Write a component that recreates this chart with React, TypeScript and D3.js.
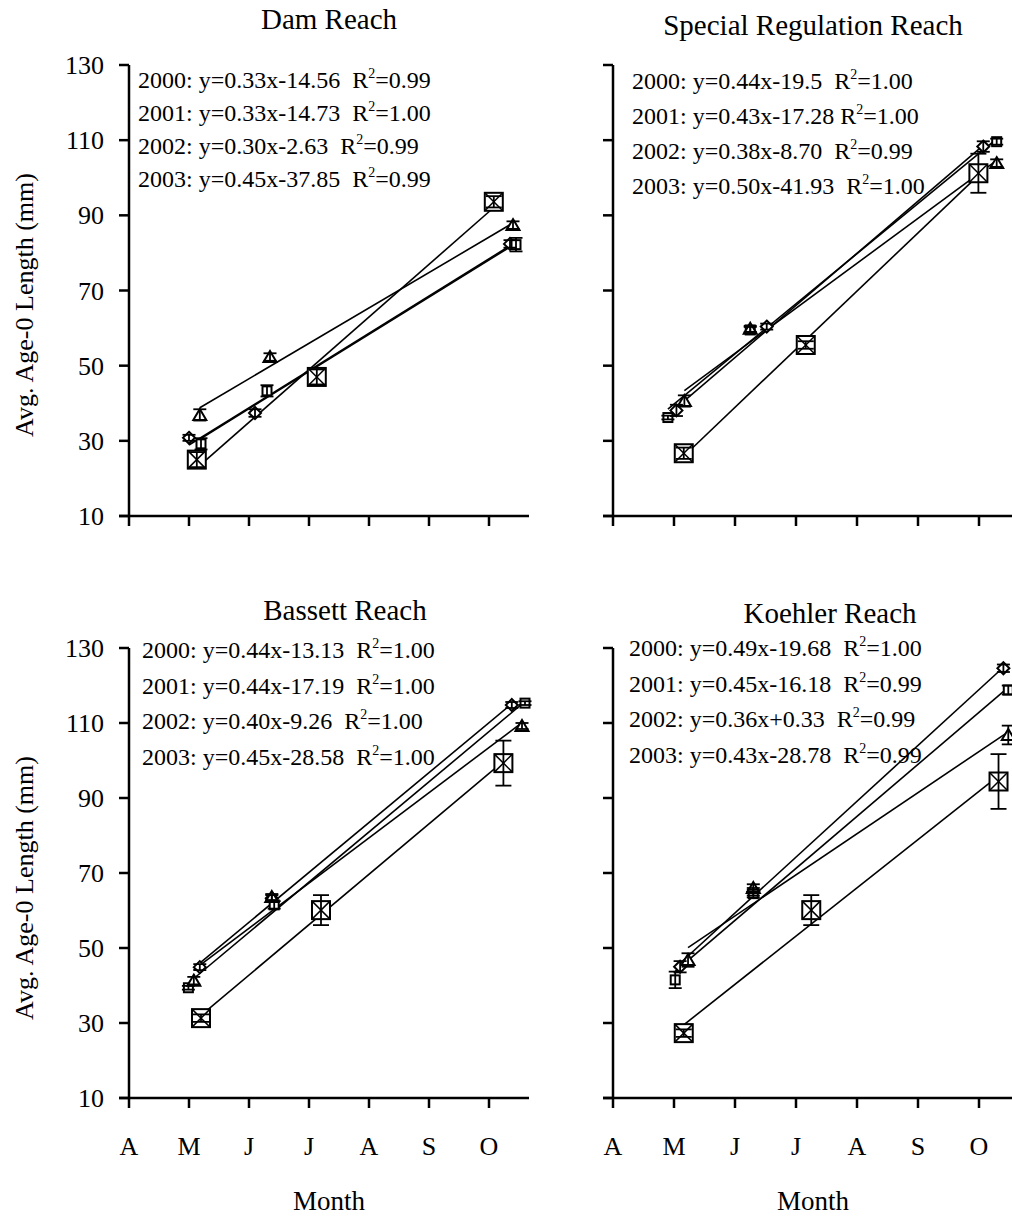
import React from 'react';
import * as d3 from 'd3';

const MONTH_LABELS = ['A', 'M', 'J', 'J', 'A', 'S', 'O'];
const Y_TICKS = [10, 30, 50, 70, 90, 110, 130];
const YEARS = ['2000', '2001', '2002', '2003'];
const MARKERS = ['diamond', 'square', 'triangle', 'boxx'];

// Month position: 0 = April, 1 = May, ... 6 = October
// Dam Reach
const damMonths = [
  [1.0, 2.1, 6.35],
  [1.2, 2.3, 6.45],
  [1.18, 2.35, 6.4],
  [1.13, 3.13, 6.08],
];
const damLengths = [
  [30.8, 37.4, 82.4],
  [29.2, 43.3, 82.2],
  [36.9, 52.3, 87.4],
  [25.0, 47.0, 93.6],
];
const damErrors = [
  [0.8, 1.0, 1.0],
  [1.5, 1.5, 1.8],
  [1.5, 1.0, 1.0],
  [2.0, 2.0, 1.5],
];
const damEquations = ['y=0.33x-14.56', 'y=0.33x-14.73', 'y=0.30x-2.63', 'y=0.45x-37.85'];
const damR2 = ['0.99', '1.00', '0.99', '0.99'];

// Special Regulation Reach
const specialMonths = [
  [1.04, 2.52, 6.07],
  [0.9, 2.25, 6.29],
  [1.17, 2.25, 6.29],
  [1.16, 3.16, 5.99],
];
const specialLengths = [
  [38.1, 60.4, 108.3],
  [36.2, 59.5, 109.6],
  [40.6, 59.8, 103.9],
  [26.7, 55.5, 101.2],
];
const specialErrors = [
  [1.5, 0.8, 1.4],
  [0.5, 0.8, 0.8],
  [1.5, 0.8, 1.0],
  [1.5, 1.0, 5.2],
];
const specialEquations = ['y=0.44x-19.5', 'y=0.43x-17.28', 'y=0.38x-8.70', 'y=0.50x-41.93'];
const specialR2 = ['1.00', '1.00', '0.99', '1.00'];
const specialGaps = ['  ', ' ', '  ', '  '];

// Bassett Reach
const bassettMonths = [
  [1.18, 2.38, 6.38],
  [0.99, 2.42, 6.6],
  [1.08, 2.38, 6.55],
  [1.2, 3.2, 6.24],
];
const bassettLengths = [
  [44.9, 63.3, 114.8],
  [39.4, 61.5, 115.3],
  [41.3, 63.6, 109.2],
  [31.3, 60.1, 99.3],
];
const bassettErrors = [
  [0.8, 0.8, 0.8],
  [0.5, 1.0, 0.5],
  [1.0, 0.8, 0.8],
  [1.0, 4.0, 6.0],
];
const bassettEquations = ['y=0.44x-13.13', 'y=0.44x-17.19', 'y=0.40x-9.26', 'y=0.45x-28.58'];
const bassettR2 = ['1.00', '1.00', '1.00', '1.00'];

// Koehler Reach
const koehlerMonths = [
  [1.1, 2.3, 6.4],
  [1.02, 2.3, 6.48],
  [1.23, 2.3, 6.48],
  [1.16, 3.25, 6.32],
];
const koehlerLengths = [
  [45.0, 65.0, 124.6],
  [41.5, 64.5, 118.8],
  [46.8, 66.0, 106.8],
  [27.3, 60.1, 94.4],
];
const koehlerErrors = [
  [1.5, 1.0, 1.0],
  [2.2, 1.0, 1.2],
  [1.8, 1.0, 2.5],
  [1.0, 4.0, 7.3],
];
const koehlerEquations = ['y=0.49x-19.68', 'y=0.45x-16.18', 'y=0.36x+0.33', 'y=0.43x-28.78'];
const koehlerR2 = ['1.00', '0.99', '0.99', '0.99'];

const FONT = '"Liberation Serif", "Times New Roman", serif';
const DEFAULT_GAPS = ['  ', '  ', '  ', '  '];

type PanelCfg = {
  title: string;
  months: number[][];
  lengths: number[][];
  errors: number[][];
  equations: string[];
  r2: string[];
  gaps: string[];
  x0: number;
  step: number;
  yTop: number;
  yBot: number;
  titleX: number;
  titleY: number;
  annX: number;
  annY: number;
  annDy: number;
  yLabels: boolean;
  xLabels: boolean;
  yTitleY: number;
};

const PANELS: PanelCfg[] = [
  {
    title: 'Dam Reach', months: damMonths, lengths: damLengths, errors: damErrors,
    equations: damEquations, r2: damR2, gaps: DEFAULT_GAPS,
    x0: 129, step: 60, yTop: 65, yBot: 516, titleX: 329, titleY: 29,
    annX: 138, annY: 88, annDy: 33, yLabels: true, xLabels: false, yTitleY: 305,
  },
  {
    title: 'Special Regulation Reach', months: specialMonths, lengths: specialLengths, errors: specialErrors,
    equations: specialEquations, r2: specialR2, gaps: specialGaps,
    x0: 613, step: 61, yTop: 65, yBot: 516, titleX: 813, titleY: 35,
    annX: 632, annY: 89, annDy: 35, yLabels: false, xLabels: false, yTitleY: 0,
  },
  {
    title: 'Bassett Reach', months: bassettMonths, lengths: bassettLengths, errors: bassettErrors,
    equations: bassettEquations, r2: bassettR2, gaps: DEFAULT_GAPS,
    x0: 129, step: 60, yTop: 648, yBot: 1098, titleX: 345, titleY: 620,
    annX: 142, annY: 658, annDy: 35.5, yLabels: true, xLabels: true, yTitleY: 888,
  },
  {
    title: 'Koehler Reach', months: koehlerMonths, lengths: koehlerLengths, errors: koehlerErrors,
    equations: koehlerEquations, r2: koehlerR2, gaps: DEFAULT_GAPS,
    x0: 613, step: 61, yTop: 648, yBot: 1098, titleX: 830, titleY: 623,
    annX: 629, annY: 656, annDy: 35.5, yLabels: false, xLabels: true, yTitleY: 0,
  },
];

function linearFit(xs: number[], ys: number[]) {
  const mx = d3.mean(xs) as number;
  const my = d3.mean(ys) as number;
  let sxy = 0;
  let sxx = 0;
  xs.forEach((xv, i) => {
    sxy += (xv - mx) * (ys[i] - my);
    sxx += (xv - mx) * (xv - mx);
  });
  const b = sxy / sxx;
  const a = my - b * mx;
  return (xv: number) => a + b * xv;
}

function Marker({ kind, cx, cy }: { kind: string; cx: number; cy: number }) {
  const common = { fill: 'white', stroke: 'black', strokeWidth: 2 };
  if (kind === 'diamond') {
    const pts = d3.line()([[cx, cy - 6], [cx + 6, cy], [cx, cy + 6], [cx - 6, cy]]) + 'Z';
    return <path d={pts} {...common} />;
  }
  if (kind === 'square') {
    return <rect x={cx - 4.5} y={cy - 4.5} width={9} height={9} {...common} />;
  }
  if (kind === 'triangle') {
    const pts = d3.line()([[cx, cy - 6], [cx + 6.5, cy + 5], [cx - 6.5, cy + 5]]) + 'Z';
    return <path d={pts} {...common} />;
  }
  const h = 9;
  return (
    <g>
      <rect x={cx - h} y={cy - h} width={2 * h} height={2 * h} {...common} />
      <line x1={cx - h} y1={cy - h} x2={cx + h} y2={cy + h} stroke="black" strokeWidth={1.5} />
      <line x1={cx - h} y1={cy + h} x2={cx + h} y2={cy - h} stroke="black" strokeWidth={1.5} />
    </g>
  );
}

function Panel({ cfg }: { cfg: PanelCfg }) {
  const x = d3.scaleLinear().domain([0, 1]).range([cfg.x0, cfg.x0 + cfg.step]);
  const y = d3.scaleLinear().domain([10, 130]).range([cfg.yBot, cfg.yTop]);
  const xEnd = cfg.x0 + 400;
  const lineGen = d3.line<[number, number]>().x((d) => x(d[0])).y((d) => y(d[1]));

  return (
    <g>
      {/* title */}
      <text x={cfg.titleX} y={cfg.titleY} textAnchor="middle" fontSize={29} fontFamily={FONT}>
        {cfg.title}
      </text>

      {/* regression lines */}
      {cfg.months.map((ms, si) => {
        const f = linearFit(ms, cfg.lengths[si]);
        const x1 = d3.min(ms) as number;
        const x2 = d3.max(ms) as number;
        return (
          <path key={'l' + si} d={lineGen([[x1, f(x1)], [x2, f(x2)]]) as string}
            stroke="black" strokeWidth={1.6} fill="none" />
        );
      })}

      {/* markers */}
      {cfg.months.map((ms, si) =>
        ms.map((m, pi) => (
          <Marker key={'m' + si + '-' + pi} kind={MARKERS[si]} cx={x(m)} cy={y(cfg.lengths[si][pi])} />
        ))
      )}

      {/* error bars */}
      {cfg.months.map((ms, si) =>
        ms.map((m, pi) => {
          const v = cfg.lengths[si][pi];
          const e = cfg.errors[si][pi];
          const cx = x(m);
          const cap = si === 3 ? 8 : 6.5;
          return (
            <g key={'e' + si + '-' + pi} stroke="black" strokeWidth={1.8}>
              <line x1={cx} x2={cx} y1={y(v - e)} y2={y(v + e)} />
              <line x1={cx - cap} x2={cx + cap} y1={y(v + e)} y2={y(v + e)} />
              <line x1={cx - cap} x2={cx + cap} y1={y(v - e)} y2={y(v - e)} />
            </g>
          );
        })
      )}

      {/* axes */}
      <line x1={cfg.x0} x2={cfg.x0} y1={cfg.yTop} y2={cfg.yBot} stroke="black" strokeWidth={2.5} />
      <line x1={cfg.x0 - 10} x2={xEnd} y1={cfg.yBot} y2={cfg.yBot} stroke="black" strokeWidth={2.5} />
      {Y_TICKS.map((t) => (
        <g key={'yt' + t}>
          <line x1={cfg.x0 - 10} x2={cfg.x0} y1={y(t)} y2={y(t)} stroke="black" strokeWidth={2.5} />
          {cfg.yLabels && (
            <text x={cfg.x0 - 25} y={y(t)} dy="0.35em" textAnchor="end" fontSize={26} fontFamily={FONT}>
              {t}
            </text>
          )}
        </g>
      ))}
      {MONTH_LABELS.map((lab, i) => (
        <g key={'xt' + i}>
          <line x1={x(i)} x2={x(i)} y1={cfg.yBot} y2={cfg.yBot + 10} stroke="black" strokeWidth={2.5} />
          {cfg.xLabels && (
            <text x={x(i)} y={1155} textAnchor="middle" fontSize={26} fontFamily={FONT}>
              {lab}
            </text>
          )}
        </g>
      ))}
      {cfg.xLabels && (
        <text x={(cfg.x0 + xEnd) / 2} y={1210} textAnchor="middle" fontSize={27} fontFamily={FONT}>
          Month
        </text>
      )}
      {cfg.yLabels && (
        <text transform={`translate(33,${cfg.yTitleY}) rotate(-90)`} textAnchor="middle" fontSize={26} fontFamily={FONT}>
          Avg. Age-0 Length (mm)
        </text>
      )}

      {/* annotations */}
      {YEARS.map((yr, i) => (
        <text key={'a' + i} x={cfg.annX} y={cfg.annY + i * cfg.annDy} fontSize={24} fontFamily={FONT}
          style={{ whiteSpace: 'pre' }}>
          {`${yr}: ${cfg.equations[i]}${cfg.gaps[i]}R`}
          <tspan dy={-10} fontSize={14}>2</tspan>
          <tspan dy={10}>{`=${cfg.r2[i]}`}</tspan>
        </text>
      ))}
    </g>
  );
}

export default function App() {
  return (
    <div style={{ position: 'absolute', left: 0, top: 0 }}>
      <svg width={1012} height={1218} style={{ display: 'block', background: 'white' }}>
        <rect x={0} y={0} width={1012} height={1218} fill="white" />
        {PANELS.map((p, i) => (
          <Panel key={i} cfg={p} />
        ))}
      </svg>
    </div>
  );
}
